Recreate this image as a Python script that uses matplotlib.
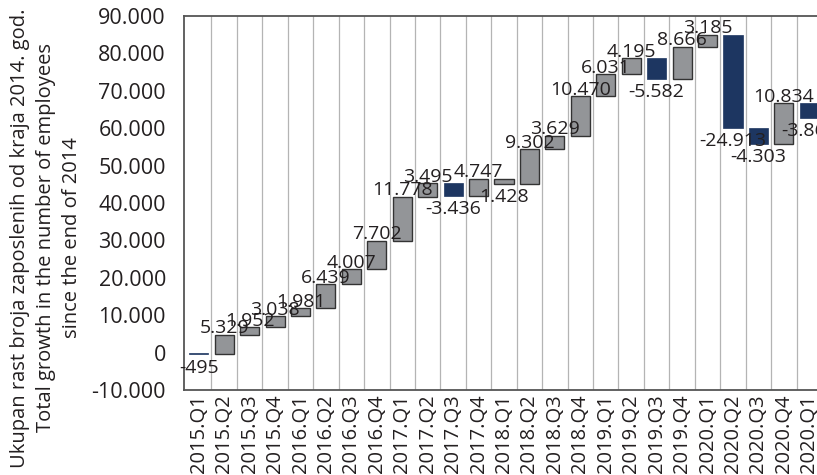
import numpy as np
import matplotlib.pyplot as plt

# Podaci: promjena broja zaposlenih po kvartalu (kako je nacrtano na grafikonu)
quarters = ["2015.Q1", "2015.Q2", "2015.Q3", "2015.Q4",
            "2016.Q1", "2016.Q2", "2016.Q3", "2016.Q4",
            "2017.Q1", "2017.Q2", "2017.Q3", "2017.Q4",
            "2018.Q1", "2018.Q2", "2018.Q3", "2018.Q4",
            "2019.Q1", "2019.Q2", "2019.Q3", "2019.Q4",
            "2020.Q1", "2020.Q2", "2020.Q3", "2020.Q4",
            "2020.Q1"]
changes = [-495, 5329, 1952, 3038,
           1981, 6439, 4007, 7702,
           11778, 3495, -3436, 4747,
           -1428, 9302, 3629, 10470,
           6031, 4195, -5582, 8666,
           3185, -24913, -4303, 10834,
           -3866]
value_labels = ["-495", "5.329", "1.952", "3.038",
                "1.981", "6.439", "4.007", "7.702",
                "11.778", "3.495", "-3.436", "4.747",
                "1.428", "9.302", "3.629", "10.470",
                "6.031", "4.195", "-5.582", "8.666",
                "3.185", "-24.913", "-4.303", "10.834",
                "-3.866"]
y_ticks = [-10000, 0, 10000, 20000, 30000, 40000, 50000, 60000, 70000, 80000, 90000]

GREY = "#939598"
NAVY = "#1d3661"
TXT = "#231f20"

plt.rcParams['font.family'] = ['Open Sans', 'DejaVu Sans']

ends = np.cumsum(changes)
starts = ends - np.array(changes)
x = np.arange(len(quarters))

fig = plt.figure(figsize=(8.17, 4.75), dpi=100)
ax = fig.add_axes([184 / 817, 1 - 390 / 475, 638 / 817, 374 / 475])

for i in x:
    neg = value_labels[i].startswith("-")
    if neg:
        ax.bar(i, changes[i], bottom=starts[i], width=0.75, color=NAVY, edgecolor=NAVY,
               linewidth=0.5, zorder=2)
    else:
        ax.bar(i, changes[i], bottom=starts[i], width=0.75, color=GREY, edgecolor="#333333",
               linewidth=1.0, zorder=2)

for i in x:
    if changes[i] < 0:
        ax.annotate(value_labels[i], (i, min(starts[i], ends[i])), xytext=(0, -3),
                    textcoords="offset points", ha="center", va="top",
                    fontsize=14, color=TXT, zorder=3)
    else:
        ax.annotate(value_labels[i], (i, max(starts[i], ends[i])), xytext=(0, -2),
                    textcoords="offset points", ha="center", va="bottom",
                    fontsize=14, color=TXT, zorder=3)

# vertikalne linije izmedju kvartala
for b in np.arange(0.5, len(quarters), 1.0):
    ax.axvline(b, color="#b4b4b4", linewidth=0.9, zorder=1)

ax.set_xlim(-0.58, len(quarters) - 0.5)
ax.set_ylim(-10000, 90000)
ax.set_yticks(y_ticks)
ax.set_yticklabels([f"{v:,.0f}".replace(",", ".") for v in y_ticks], fontsize=15.5, color=TXT)
ax.set_xticks(x)
ax.set_xticklabels(quarters, rotation=90, fontsize=14.5, color=TXT)
ax.tick_params(axis="y", length=0, pad=13)
ax.tick_params(axis="x", length=0, pad=3)

for side in ["left", "top", "bottom"]:
    ax.spines[side].set_color("#555555")
    ax.spines[side].set_linewidth(1.3)
ax.spines["right"].set_visible(False)

fig.text(46 / 817, 1 - 238 / 475,
         "Ukupan rast broja zaposlenih od kraja 2014. god.\n"
         "Total growth in the number of employees\n"
         "since the end of 2014",
         rotation=90, ha="center", va="center", multialignment="center",
         fontsize=14.5, color=TXT, linespacing=1.42)

fig.savefig("out.png", dpi=100)
